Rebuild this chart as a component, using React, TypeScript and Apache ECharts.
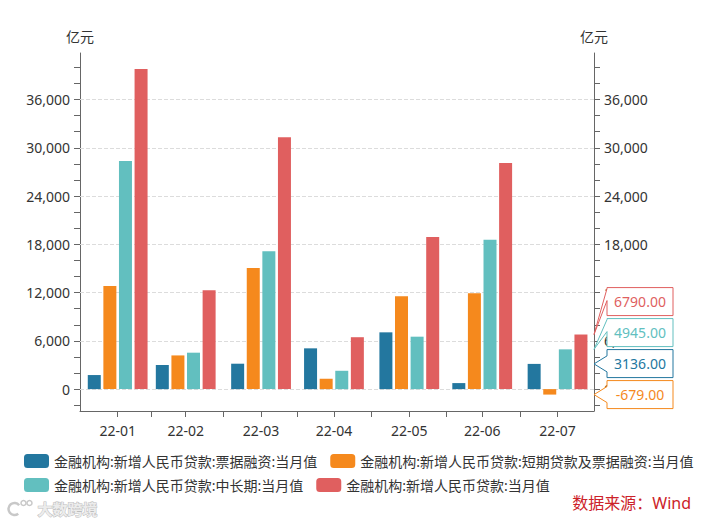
import React, { useEffect, useRef } from "react";
import * as echarts from "echarts";

// 月份标签 & 对应的月末日期
const months = ["22-01", "22-02", "22-03", "22-04", "22-05", "22-06", "22-07"];
const monthEnds = ["2022-01-31", "2022-02-28", "2022-03-31", "2022-04-30", "2022-05-31", "2022-06-30", "2022-07-31"];

const seriesNames = [
	"金融机构:新增人民币贷款:票据融资:当月值",
	"金融机构:新增人民币贷款:短期贷款及票据融资:当月值",
	"金融机构:新增人民币贷款:中长期:当月值",
	"金融机构:新增人民币贷款:当月值",
];

// 亿元
const billFinancing = [1750, 3000, 3160, 5070, 7060, 750, 3136];
const shortTermAndBill = [12830, 4190, 15070, 1290, 11540, 11920, -679];
const midLongTerm = [28360, 4530, 17150, 2280, 6520, 18560, 4945];
const newLoans = [39800, 12300, 31300, 6454, 18900, 28100, 6790];

const colors = ["#23779f", "#f5891d", "#62bfbf", "#e05f5f"];

const yLabelValues = [0, 6000, 12000, 18000, 24000, 30000, 36000];
const yTickValues = [
	-2000, 0, 2000, 4000, 6000, 8000, 10000, 12000, 14000, 16000, 18000,
	20000, 22000, 24000, 26000, 28000, 30000, 32000, 34000, 36000, 38000, 40000,
];
const yMin = -2720;
const yMax = 41790;

const FONT = '"Noto Sans", "Noto Sans CJK SC", sans-serif';
const DAY = 86400000;

const App = () => {
	const chartRef = useRef<HTMLDivElement>(null);

	useEffect(() => {
		document.body.style.margin = "0";
		if (!chartRef.current) return;
		const chart = echarts.init(chartRef.current, null, { renderer: "svg" });

		// x 轴按天计 (线性), 月份不等长
		const days = monthEnds.map(d => Math.round(Date.UTC(+d.slice(0, 4), +d.slice(5, 7) - 1, +d.slice(8, 10)) / DAY));
		const mids = days.slice(1).map((t, i) => (t + days[i]) / 2);
		const seriesValues = [billFinancing, shortTermAndBill, midLongTerm, newLoans];
		const last = days.length - 1;
		const calloutData = seriesValues.map((vals, i) => [days[last], vals[last], i]);

		const BOX_W = 66, BOX_H = 28, GAP = 3, OFFSET = 13;

		const renderCallout = (params: any, api: any) => {
			const idx = params.dataIndex;
			const axisX = params.coordSys.x + params.coordSys.width;
			// 自下而上排布, 避免重叠
			const items = calloutData.map(d => ({ i: d[2] as number, y: api.coord([d[0], d[1]])[1] }));
			items.sort((a, b) => b.y - a.y);
			const tops: { [k: number]: number } = {};
			let limit = Infinity;
			items.forEach(it => {
				const bottom = Math.min(it.y + BOX_H / 2, limit);
				tops[it.i] = bottom - BOX_H;
				limit = bottom - BOX_H - GAP;
			});
			const tipY = items.find(it => it.i === idx)!.y;
			const T = tops[idx], B = T + BOX_H;
			const L = axisX + OFFSET, R = L + BOX_W;
			let b0, b1;
			if (tipY >= T + 8 && tipY <= B - 8) {
				b0 = tipY - 8; b1 = tipY + 8;
			} else if (tipY > B - 8) {
				b0 = T + 1; b1 = T + 13;
			} else {
				b0 = B - 13; b1 = B - 1;
			}
			const color = colors[idx];
			return {
				type: "group",
				children: [
					{
						type: "polygon",
						shape: { points: [[L, T], [R, T], [R, B], [L, B], [L, b1], [axisX, tipY], [L, b0]] },
						style: { fill: "#fff", stroke: color, lineWidth: 1 },
					},
					{
						type: "text",
						x: L + BOX_W / 2,
						y: T + BOX_H / 2,
						style: {
							text: (api.value(1) as number).toFixed(2),
							fill: color,
							font: `14px ${FONT}`,
							align: "center",
							verticalAlign: "middle",
						},
					},
				],
			};
		};

		const yAxisBase = (position: "left" | "right") => ({
			type: "value" as const,
			position,
			name: "亿元",
			nameLocation: "end" as const,
			nameGap: 10,
			nameTextStyle: { color: "#333", fontSize: 14, align: "center" as const },
			min: yMin,
			max: yMax,
			axisLine: { show: true, lineStyle: { color: "#666" } },
			axisTick: { show: true, length: 6, customValues: yTickValues, lineStyle: { color: "#666" } },
			axisLabel: {
				customValues: yLabelValues,
				margin: 10,
				color: "#333",
				fontSize: 14,
				formatter: (v: number) => v.toLocaleString("en-US"),
			},
			splitLine: { show: false },
		});

		const option: any = {
			animation: false,
			textStyle: { fontFamily: FONT },
			color: colors,
			grid: { left: 80, right: 126, top: 53, bottom: 112, containLabel: false, outerBoundsMode: "none" },
			legend: [
				{
					data: seriesNames.slice(0, 2),
					left: 19, top: 449,
					itemWidth: 25, itemHeight: 14, itemGap: 13,
					icon: "roundRect",
					textStyle: { color: "#333", fontSize: 14 },
				},
				{
					data: seriesNames.slice(2, 4),
					left: 19, top: 473,
					itemWidth: 25, itemHeight: 14, itemGap: 13,
					icon: "roundRect",
					textStyle: { color: "#333", fontSize: 14 },
				},
			],
			xAxis: {
				type: "value",
				min: days[0] - 15.5,
				max: days[last] + 15,
				axisLine: { onZero: false, lineStyle: { color: "#666" } },
				axisTick: { show: true, length: 6, customValues: [...days, ...mids], lineStyle: { color: "#666" } },
				axisLabel: {
					customValues: days,
					margin: 12,
					color: "#333",
					fontSize: 14,
					formatter: (v: number) => {
						const k = days.findIndex(t => Math.abs(t - v) < 0.5);
						return k >= 0 ? months[k] : "";
					},
				},
				splitLine: { show: false },
			},
			yAxis: [yAxisBase("left"), yAxisBase("right")],
			series: [
				...seriesValues.map((vals, i) => ({
					name: seriesNames[i],
					type: "bar",
					barWidth: 13,
					barGap: "20%",
					data: days.map((t, k) => [t, vals[k]]),
					...(i === 0
						? {
								markLine: {
									silent: true,
									z: 1,
									symbol: ["none", "none"],
									label: { show: false },
									lineStyle: { type: "dashed", color: "#dcdcdc", width: 1 },
									data: yLabelValues.map(v => ({ yAxis: v })),
								},
						  }
						: {}),
				})),
				{
					type: "custom",
					renderItem: renderCallout,
					clip: false,
					z: 10,
					encode: { x: 0, y: 1 },
					data: calloutData,
				},
			],
			graphic: [
				{
					type: "text",
					right: 29,
					top: 495,
					style: { text: "数据来源：Wind", fill: "#cc2229", font: `16px ${FONT}` },
				},
				{
					type: "group",
					left: 6,
					top: 498,
					children: [
						{ type: "arc", shape: { cx: 8, cy: 10, r: 6, startAngle: 0.9, endAngle: 5.6 }, style: { stroke: "#c8c8c8", lineWidth: 2.5, fill: "none" } },
						{ type: "circle", shape: { cx: 17, cy: 4, r: 2.5 }, style: { stroke: "#c8c8c8", lineWidth: 1.5, fill: "none" } },
						{ type: "circle", shape: { cx: 23, cy: 4, r: 2.5 }, style: { stroke: "#c8c8c8", lineWidth: 1.5, fill: "none" } },
						{ type: "text", x: 31, y: 2, style: { text: "大数跨境", fill: "#ececec", stroke: "#bdbdbd", lineWidth: 1, font: `bold 15px ${FONT}` } },
					],
				},
			],
		};

		chart.setOption(option);
		return () => {
			chart.dispose();
		};
	}, []);

	return <div ref={chartRef} style={{ width: 720, height: 523 }} />;
};

export default App;
